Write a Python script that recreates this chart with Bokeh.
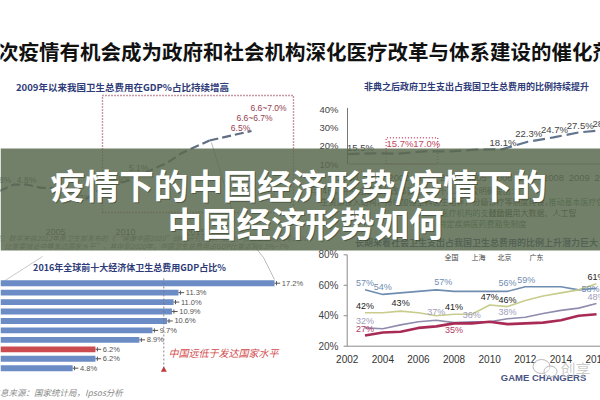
from bokeh.plotting import figure
from bokeh.models import Range1d
from bokeh.embed import file_html
from bokeh.resources import INLINE
from bokeh.core.properties import value

# ---------------- data ----------------
title_text = "此次疫情有机会成为政府和社会机构深化医疗改革与体系建设的催化剂"
banner_lines = ["疫情下的中国经济形势/疫情下的", "中国经济形势如何"]

# Panel A (top-left): health expenditure as % of GDP
a_title = "2009年以来我国卫生总费用在GDP%占比持续增高"
a_years = [2001, 2002, 2003, 2004, 2005, 2006, 2007, 2008, 2009, 2010, 2011, 2012, 2013, 2014, 2015, 2016]
a_share = [4.6, 4.8, 4.8, 4.7, 4.7, 4.5, 4.3, 4.6, 4.8, 4.9, 5.1, 5.3, 5.5, 5.8, 6.0, 6.2]
a_proj_years = [2016, 2019]
a_proj_share = [6.2, 6.5]
a_label_years = [2002, 2003, 2007, 2010, 2011]
a_label_vals = [4.8, 4.8, 4.3, 4.9, 5.1]
a_label_text = ["4.8%", "4.8%", "4.3%", "4.9%", "5.1%"]
a_proj_labels = ["6.5%", "6.6~6.7%", "6.6~7.0%"]
a_ticks = [2005, 2010, 2015]
a_notes = ["注：数字来自2012年原卫生部发布的《“健康中国2020”战略研究报告》提出，我国卫生总费用占GDP",
           "比重要接近中等发达国家水平”，其中到2020年，中国卫生总费用占GDP比重达到6.5%~7%"]

# Panel B (top-right): government share of total health expenditure
b_title = "非典之后政府卫生支出占我国卫生总费用的比例持续提升"
b_years = [2000, 2001, 2002, 2003, 2004, 2005, 2006, 2007, 2008, 2009, 2010]
b_share = [15.5, 15.9, 15.7, 17.0, 17.0, 17.9, 18.1, 22.3, 24.7, 27.5, 28.7]
b_label_years = [2000, 2002, 2003, 2006, 2007, 2008, 2009, 2010]
b_label_vals = [15.5, 15.7, 17.0, 18.1, 22.3, 24.7, 27.5, 28.7]
b_label_text = ["15.5%", "15.7%", "17.0%", "18.1%", "22.3%", "24.7%", "27.5%", "28.7%"]
b_yticks = [10, 20, 30, 40]
b_xticks = [2000, 2001, 2002, 2003, 2004, 2005, 2006, 2007, 2008, 2009, 2010]
b_box_years = [2002, 2003]
b_notes = ["2月14日，中央全面深化改革委员会第十二次会议明确提出：",
           "生资源投入结构，持续加强全科医生培养，分级诊疗等制度建设，",
           "推动基本医疗保",
           "医疗机构的支付比例",
           "鼓励运用大数据、人工智",
           "特定疾病医药费豁免制度"]

# Panel C (bottom-left): top-10 economies, health expenditure % GDP, 2016
c_title = "2016年全球前十大经济体卫生总费用GDP占比%"
c_rank = [0, 1, 2, 3, 4, 5, 6, 7, 8, 9]
c_share = [17.2, 11.3, 11.0, 10.9, 10.6, 9.7, 8.9, 6.2, 6.2, 4.8]
c_is_china = [False, False, False, False, False, False, False, True, False, False]
c_ref_value = 10.4
c_note = "中国远低于发达国家水平"
c_source = "信息来源：国家统计局，Ipsos分析"

# Panel D (bottom-right): social health expenditure share
d_title = "长期来看社会卫生支出占我国卫生总费用的比例上升潜力巨大"
d_years = [2003, 2004, 2005, 2006, 2007, 2008, 2009, 2010, 2011, 2012, 2013, 2014, 2015, 2016]
d_national = [27, 29, 29.5, 32, 33, 35, 35, 36, 34.5, 35, 35.5, 37, 40, 41]
d_shanghai = [57, 54, 55, 56, 57, 56, 56, 56, 56, 59, 59, 59, 57, 58]
d_beijing = [42, 42, 43, 42, 40, 41, 41, 47, 46, 50, 53, 55, 57, 61]
d_guangdong = [32, 31.5, 34, 36, 37, 35.5, 36, 36, 38, 39, 41.5, 43.5, 45, 48]
d_names = ["全国", "上海", "北京", "广东"]
d_yticks = [20, 40, 60, 80]
d_xticks = [2002, 2004, 2006, 2008, 2010, 2012, 2014, 2016]
d_nat_lab = ([2003, 2008], ["27%", "35%"])
d_sh_lab = ([2003, 2004, 2007, 2011, 2012, 2016], ["57%", "54%", "57%", "56%", "59%", "58%"])
d_bj_lab = ([2003, 2005, 2008, 2010, 2011, 2016], ["42%", "43%", "41%", "47%", "46%", "61%"])
d_gd_lab = ([2003, 2007, 2009, 2011, 2016], ["32%", "37%", "36%", "38%", "48%"])
brand = "GAME CHANGERS"
watermark = "创享"

# ---------------- styles / layout ----------------
CJK = "Noto Sans CJK SC"
LAT = "Liberation Sans"
NAVY = "#2e3b78"
W, H = 600, 400


def lin(v0, p0, v1, p1, size, from_top=False):
    k = (p1 - p0) / (v1 - v0)

    def val(px):
        return v0 + (px - p0) / k
    if from_top:
        return Range1d(start=val(size), end=val(0))
    return Range1d(start=val(0), end=val(size))


p = figure(width=W, height=H, x_range=Range1d(0, W), y_range=Range1d(H, 0),
           output_backend="svg", toolbar_location=None, min_border=0,
           x_axis_type=None, y_axis_type=None, outline_line_color=None,
           background_fill_color="white", border_fill_color="white")
p.xgrid.visible = False
p.ygrid.visible = False

p.extra_x_ranges = {
    "ax": lin(2005, 55, 2010, 125, W),
    "bx": lin(2000, 347, 2008, 553, W),
    "cx": lin(0, -6, 17.2, 274, W),
    "dx": lin(2002, 346.7, 2016, 596, W),
}
p.extra_y_ranges = {
    "ay": lin(4.3, 200, 6.2, 140, H, True),
    "by": lin(40, 109.2, 20, 145.4, H, True),
    "cy": lin(0, 282.7, 9, 367.7, H, True),
    "dy": lin(80, 254.3, 20, 345.7, H, True),
}


def T(xs, ys, texts, size, color, align="left", base="middle", bold=False, italic=False,
      font=CJK, alpha=1.0, xr=None, yr=None, dx=0, dy=0):
    kw = {}
    if xr:
        kw["x_range_name"] = xr
    if yr:
        kw["y_range_name"] = yr
    style = "normal"
    if bold and italic:
        style = "bold italic"
    elif bold:
        style = "bold"
    elif italic:
        style = "italic"
    p.text(x=xs, y=ys, text=texts, text_font=value(font), text_font_size=size,
           text_color=color, text_align=align, text_baseline=base,
           text_font_style=style, text_alpha=alpha, x_offset=dx, y_offset=dy, **kw)


# ---------- title ----------
T([-23], [50], [title_text], "20.5px", "#111111", bold=True)

# ---------- Panel A ----------
T([122], [86], [a_title], "9.5px", NAVY, align="center", bold=True)
p.line([0, 296], [93], line_color="#3a4290", line_width=2)
p.line([102, 102, 293, 293, 102], [212, 95, 95, 212, 212], line_color="#8e3348",
       line_width=1.4, line_dash="1 2")
p.line([211, 235, 263, 274], [142, 222, 257, 279], line_color="#aaaaaa", line_width=0.8)
p.line([42, 0], [256, 283], line_color="#bbbbbb", line_width=0.8)
p.line(a_years, a_share, x_range_name="ax", y_range_name="ay", line_color="#5f6e84",
       line_width=2.2, line_dash="9 4")
p.line(a_proj_years, a_proj_share, x_range_name="ax", y_range_name="ay",
       line_color="#5f6e84", line_width=2.2, line_dash="9 4")
T(a_label_years, a_label_vals, a_label_text, "8.5px", "#555555", align="center",
  font=LAT, xr="ax", yr="ay", dx=[-12, -1, -2, -5, -1], dy=[-5, -5, -3, -3, -7])
T([a_proj_years[-1]] * 3, [a_proj_share[-1]] * 3, a_proj_labels, "8.5px", "#93404f",
  align="center", font=LAT, xr="ax", yr="ay", dx=[-11, 3, 17], dy=[-3, -13, -23])
p.line([0, 296], [219], line_color="#b5b5b5", line_width=0.8)
T(a_ticks, [231] * 3, [str(t) for t in a_ticks], "9px", "#555555", align="center",
  font=LAT, xr="ax")
T([-6, 4], [237, 245], a_notes, "7px", "#777777", italic=True)

# ---------- Panel B ----------
T([476], [86], [b_title], "9px", NAVY, align="center", bold=True)
p.line([305, 600], [93], line_color="#3a4290", line_width=2)
p.line([b_xticks[0]] * 2, [41, 10], x_range_name="bx", y_range_name="by",
       line_color="#777777", line_width=1)
p.line([b_xticks[0], b_xticks[-1]], [10, 10], x_range_name="bx", y_range_name="by",
       line_color="#999999", line_width=1)
T([338] * 4, b_yticks, ["%d%%" % v for v in b_yticks], "9.5px", "#444444",
  align="right", font=LAT, yr="by")
T(b_xticks, [177] * len(b_xticks), [str(v) for v in b_xticks], "9.5px", "#444444",
  align="center", font=LAT, xr="bx")
bx0, bx1 = b_box_years[0] - 0.5, b_box_years[1] + 0.5
p.line([bx0, bx0, bx1, bx1, bx0], [10, 24.5, 24.5, 10, 10], x_range_name="bx",
       y_range_name="by", line_color="#d05a72", line_width=1.3, line_dash="1 2")
p.line(b_years, b_share, x_range_name="bx", y_range_name="by", line_color="#62748e",
       line_width=2.2, line_dash="12 5")
T(b_label_years, b_label_vals, b_label_text, "9.5px",
  ["#444444", "#c04a62", "#c04a62", "#444444", "#444444", "#444444", "#444444", "#444444"],
  align="center", font=LAT, xr="bx", yr="by", dx=[13, 1, 2, 1, 1, 1, 1, 1],
  dy=[-7, -10, -8, -7, -8, -8, -7, -7])
T([305, 320, 548, 440, 488, 438], [190, 201, 201, 212, 212, 223], b_notes, "8px",
  ["#333333", "#333333", "#2f7a4f", "#2f7a4f", "#333333", "#2f7a4f"])

# ---------- Panel C ----------
T([129], [267], [c_title], "9px", NAVY, align="center", bold=True)
c_colors = ["#cc4b4f" if f else "#6b8cc4" for f in c_is_china]
p.hbar(y=c_rank, left=0, right=c_share, height=0.62, fill_color=c_colors,
       line_color=None, x_range_name="cx", y_range_name="cy")
p.segment(x0=c_share, y0=c_rank, x1=[v + 0.35 for v in c_share], y1=c_rank,
          line_color="#555555", line_width=1, x_range_name="cx", y_range_name="cy")
p.segment(x0=[v + 0.12 for v in c_share], y0=[r - 0.22 for r in c_rank],
          x1=[v + 0.12 for v in c_share], y1=[r + 0.22 for r in c_rank],
          line_color="#555555", line_width=1, x_range_name="cx", y_range_name="cy")
T([v + 0.45 for v in c_share], c_rank, ["%.1f%%" % v for v in c_share], "7.5px",
  "#555555", font=LAT, xr="cx", yr="cy")
p.line([c_ref_value] * 2, [-0.5, 9.1], x_range_name="cx", y_range_name="cy",
       line_color="#777777", line_width=0.9, line_dash="2 2")
p.scatter([c_ref_value], [9.2], marker="triangle", size=6, fill_color="#c0393b",
          line_color=None, x_range_name="cx", y_range_name="cy")
T([168], [352], [c_note], "10px", "#d24c4c", italic=True)
T([-9], [391], [c_source], "8.5px", "#8a8a8a", italic=True)

# ---------- Panel D ----------
T([476], [242], [d_title], "9px", NAVY, align="center", bold=True)
p.line([d_xticks[0]] * 2, [80, 20], x_range_name="dx", y_range_name="dy",
       line_color="#8a8a8a", line_width=1)
p.line([d_xticks[0], d_xticks[-1] + 1], [20, 20], x_range_name="dx", y_range_name="dy",
       line_color="#8a8a8a", line_width=1)
p.segment(x0=[d_xticks[0] - 0.2] * 4, y0=d_yticks, x1=[d_xticks[0]] * 4, y1=d_yticks,
          line_color="#8a8a8a", x_range_name="dx", y_range_name="dy")
T([338] * 4, d_yticks, ["%d%%" % v for v in d_yticks], "10px", "#444444",
  align="right", font=LAT, yr="dy")
T(d_xticks, [358] * len(d_xticks), [str(v) for v in d_xticks], "10px", "#333333",
  align="center", font=LAT, xr="dx")
series = [(d_shanghai, "#6f8db0", 1.6), (d_beijing, "#c8cc8c", 1.6),
          (d_guangdong, "#8f8cad", 1.6), (d_national, "#a82a55", 2.6)]
for vals, col, lw in series:
    p.line(d_years, vals, x_range_name="dx", y_range_name="dy", line_color=col, line_width=lw)


def pick(vals, yrs):
    return [vals[d_years.index(y)] for y in yrs]


T(d_sh_lab[0], pick(d_shanghai, d_sh_lab[0]), d_sh_lab[1], "9px", "#6f8db0",
  align="center", font=LAT, xr="dx", yr="dy", dx=[0, 0, 7, 0, 1, -6], dy=[-7, -7, -8, -8, -7, 1])
T(d_bj_lab[0], pick(d_beijing, d_bj_lab[0]), d_bj_lab[1], "9px", "#222222",
  align="center", font=LAT, xr="dx", yr="dy", dy=[-7, -8, -7, -8, -7, -7])
T(d_gd_lab[0], pick(d_guangdong, d_gd_lab[0]), d_gd_lab[1], "9px", "#a09dbb",
  align="center", font=LAT, xr="dx", yr="dy", dy=[-7, -8, -7, -7, -7])
T(d_nat_lab[0], pick(d_national, d_nat_lab[0]), d_nat_lab[1], "9px", "#b33a63",
  align="center", font=LAT, xr="dx", yr="dy", dy=[-7, 7])
# legend
leg_x = [434, 461, 487, 519]
leg_cols = ["#a82a55", "#6f8db0", "#c8cc8c", "#8f8cad"]
leg_w = [2.6, 1.3, 1.3, 1.3]
for lx, lc, lw in zip(leg_x, leg_cols, leg_w):
    p.line([lx, lx + 7], [256], line_color=lc, line_width=lw)
T([x + 10 for x in leg_x], [256] * 4, d_names, "7px", "#444444")
T([543], [377], [brand], "9.5px", "#4a5585", align="center", bold=True, font=LAT)
p.ellipse(x=[541, 550], y=[366, 371], width=[17, 13], height=[14, 11], fill_color="white",
          fill_alpha=0.5, line_color="#b8b8b8", line_width=1)
T([560], [368], [watermark], "15px", "#c2c2c2", alpha=0.85)

# ---------- banner ----------
p.quad(left=[0], right=[W], top=[148], bottom=[250], fill_color="#5b6a4f",
       fill_alpha=0.85, line_color=None)
p.line([300, 600], [250.5], line_color="#46524a", line_width=1.5)
T([298, 305], [183, 221], banner_lines, "34.5px", "#2c3524", align="center", bold=True,
  alpha=0.5, dx=1, dy=1)
T([298, 305], [183, 221], banner_lines, "34.5px", "#ffffff", align="center", bold=True)

open("out.html", "w").write(file_html(p, INLINE))
